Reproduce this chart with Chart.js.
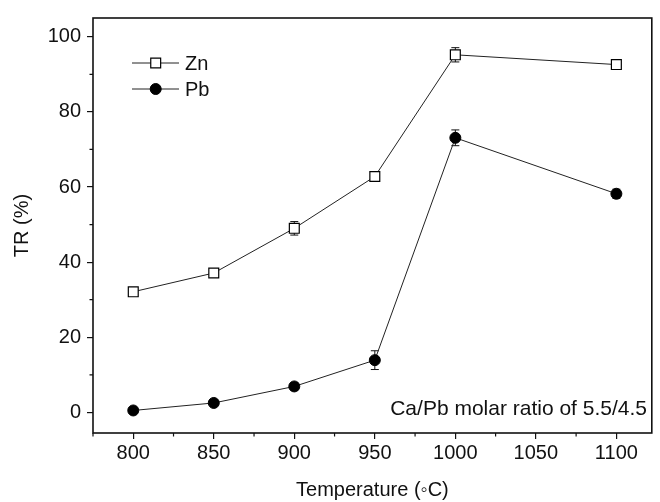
<!DOCTYPE html>
<html>
<head>
<meta charset="utf-8">
<script src="https://cdn.jsdelivr.net/npm/chart.js@4/dist/chart.umd.min.js"></script>
<style>
html,body{margin:0;padding:0;background:#fff;}
#wrap{width:660px;height:502px;position:relative;}
</style>
</head>
<body>
<div id="wrap"><canvas id="c" width="660" height="502"></canvas></div>
<script>
// ---- data ----
const temperatures = [800, 850, 900, 950, 1000, 1100];
const znValues = [32.1, 37.1, 49.0, 62.8, 95.2, 92.6];
const znErrors = [0.8, 1.0, 1.8, 0.6, 1.9, 0.8];
const pbValues = [0.5, 2.5, 6.9, 13.9, 73.1, 58.2];
const pbErrors = [0.4, 0.5, 1.0, 2.5, 2.1, 1.2];
const xTicks = [800, 850, 900, 950, 1000, 1050, 1100];
const xMinorTicks = [775, 825, 875, 925, 975, 1025, 1075, 1125];
const yTicks = [0, 20, 40, 60, 80, 100];
const yMinorTicks = [10, 30, 50, 70, 90];
const seriesNames = ['Zn', 'Pb'];
const xTitle = 'Temperature (\u25E6C)';
const yTitle = 'TR (%)';
const noteText = 'Ca/Pb molar ratio of 5.5/4.5';

const FONT = "'Liberation Sans', Arial, sans-serif";
const errors = [znErrors, pbErrors];

const toXY = (vals) => temperatures.map((t, i) => ({x: t, y: vals[i]}));

const framePlugin = {
  id: 'frame',
  beforeDatasetsDraw(chart) {
    const ctx = chart.ctx;
    const xs = chart.scales.x, ys = chart.scales.y;
    ctx.save();
    ctx.strokeStyle = '#111';
    ctx.lineWidth = 1;
    chart.data.datasets.forEach((ds, di) => {
      ds.data.forEach((p, i) => {
        const e = errors[di][i];
        const px = xs.getPixelForValue(p.x);
        const yt = ys.getPixelForValue(p.y + e);
        const yb = ys.getPixelForValue(p.y - e);
        ctx.beginPath();
        ctx.moveTo(px, yt); ctx.lineTo(px, yb);
        ctx.moveTo(px - 4, yt); ctx.lineTo(px + 4, yt);
        ctx.moveTo(px - 4, yb); ctx.lineTo(px + 4, yb);
        ctx.stroke();
      });
    });
    ctx.restore();
  },
  afterDraw(chart) {
    const ctx = chart.ctx;
    const a = chart.chartArea;
    const xs = chart.scales.x, ys = chart.scales.y;
    ctx.save();
    ctx.strokeStyle = '#111';
    ctx.lineWidth = 1.6;
    ctx.strokeRect(a.left, a.top, a.right - a.left, a.bottom - a.top);
    ctx.lineWidth = 1.2;
    ctx.beginPath();
    xMinorTicks.forEach(v => {
      if (v < xs.min || v > xs.max) return;
      const px = xs.getPixelForValue(v);
      ctx.moveTo(px, a.bottom); ctx.lineTo(px, a.bottom + 3.5);
    });
    yMinorTicks.forEach(v => {
      const py = ys.getPixelForValue(v);
      ctx.moveTo(a.left, py); ctx.lineTo(a.left - 3.5, py);
    });
    ctx.stroke();
    // legend
    const rows = [63, 89];
    chart.data.datasets.forEach((ds, di) => {
      const y = rows[di];
      ctx.strokeStyle = '#222';
      ctx.lineWidth = 1;
      ctx.beginPath(); ctx.moveTo(132, y); ctx.lineTo(179, y); ctx.stroke();
      ctx.fillStyle = ds.pointBackgroundColor;
      ctx.strokeStyle = '#000';
      ctx.lineWidth = ds.pointBorderWidth;
      ctx.beginPath();
      if (ds.pointStyle === 'rect') {
        const s = Math.SQRT1_2 * ds.pointRadius;
        ctx.rect(155.7 - s, y - s, 2 * s, 2 * s);
      } else {
        ctx.arc(155.7, y, ds.pointRadius, 0, Math.PI * 2);
      }
      ctx.fill(); ctx.stroke();
      ctx.fillStyle = '#111';
      ctx.font = '20px ' + FONT;
      ctx.textAlign = 'left';
      ctx.textBaseline = 'middle';
      ctx.fillText(ds.label, 185, y + 1);
    });
    // annotation
    ctx.fillStyle = '#111';
    ctx.font = '21px ' + FONT;
    ctx.textAlign = 'right';
    ctx.textBaseline = 'alphabetic';
    ctx.fillText(noteText, 647, 415);
    ctx.restore();
  }
};

new Chart(document.getElementById('c'), {
  type: 'line',
  data: {
    datasets: [
      {
        label: seriesNames[0], data: toXY(znValues),
        borderColor: '#222', borderWidth: 1,
        pointStyle: 'rect', pointRadius: 7, pointBorderWidth: 1.2,
        pointBackgroundColor: '#fff', pointBorderColor: '#000', tension: 0
      },
      {
        label: seriesNames[1], data: toXY(pbValues),
        borderColor: '#222', borderWidth: 1,
        pointStyle: 'circle', pointRadius: 5.5, pointBorderWidth: 1,
        pointBackgroundColor: '#000', pointBorderColor: '#000', tension: 0
      }
    ]
  },
  options: {
    responsive: false,
    animation: false,
    layout: {padding: {top: 11, right: 3, left: 0, bottom: 0}},
    plugins: {legend: {display: false}, tooltip: {enabled: false}},
    scales: {
      x: {
        type: 'linear', min: 775, max: 1122,
        afterBuildTicks: (s) => { s.ticks = xTicks.map(v => ({value: v})); },
        afterFit: (s) => { s.height = 69; },
        grid: {display: true, drawOnChartArea: false, drawTicks: true, tickLength: 6, color: '#111', lineWidth: 1.2},
        border: {display: false},
        ticks: {color: '#111', font: {family: FONT, size: 20}, padding: 2, maxRotation: 0, autoSkip: false,
                callback: (v) => String(v)},
        title: {display: true, text: xTitle, color: '#111', font: {family: FONT, size: 20}, padding: {top: 0, bottom: 0}}
      },
      y: {
        type: 'linear', min: -5.5, max: 105,
        afterBuildTicks: (s) => { s.ticks = yTicks.map(v => ({value: v})); },
        afterFit: (s) => { s.width = 93; },
        grid: {display: true, drawOnChartArea: false, drawTicks: true, tickLength: 6, color: '#111', lineWidth: 1.2},
        border: {display: false},
        ticks: {color: '#111', font: {family: FONT, size: 20}, padding: 6, autoSkip: false,
                callback: (v) => String(v)},
        title: {display: true, text: yTitle, color: '#111', font: {family: FONT, size: 20}, padding: {top: 10, bottom: 0}}
      }
    }
  },
  plugins: [framePlugin]
});
</script>
</body>
</html>
